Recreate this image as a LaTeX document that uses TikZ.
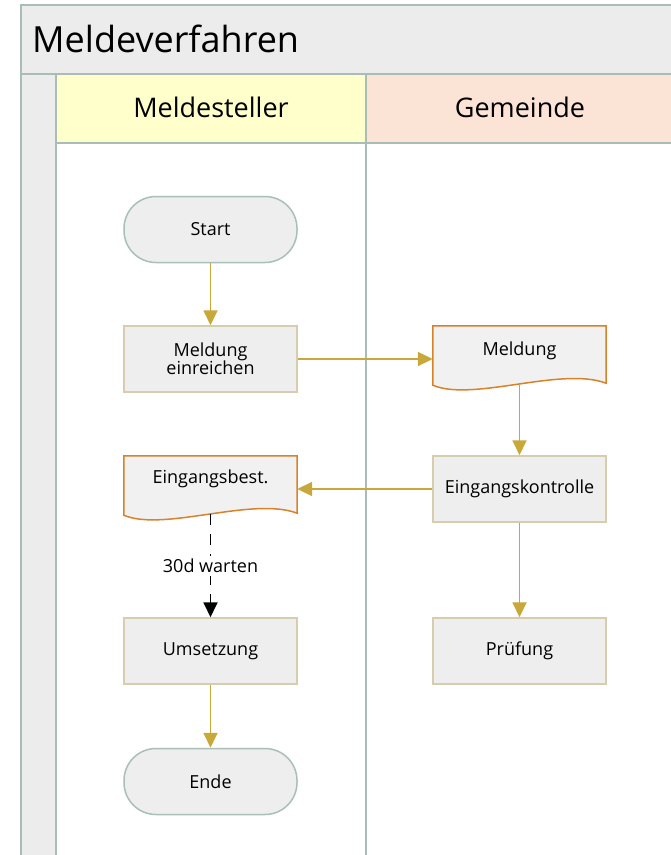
\documentclass[tikz,border=0pt]{standalone}
\usepackage{fontspec}
\setmainfont{Open Sans}
\usetikzlibrary{arrows.meta,calc}
\definecolor{laneline}{HTML}{A9BDB6}
\definecolor{bandfill}{HTML}{ECECEC}
\definecolor{yellowhead}{HTML}{FFFFCC}
\definecolor{salmonhead}{HTML}{FBE3D6}
\definecolor{boxfill}{HTML}{EEEEEE}
\definecolor{boxline}{HTML}{D6CCAE}
\definecolor{termline}{HTML}{A9BFB7}
\definecolor{docline}{HTML}{D8822A}
\definecolor{docfill}{HTML}{F1F1F1}
\definecolor{flowgold}{HTML}{C9A83B}
\tikzset{
  x=1pt, y=-1pt,
  nodetext/.style={font=\fontsize{18}{21}\selectfont, align=center, text=black},
  procbox/.style={nodetext, rectangle, draw=boxline, line width=1.5pt, fill=boxfill, minimum width=173pt, minimum height=66pt, inner sep=0pt},
  termbox/.style={nodetext, rectangle, rounded corners=32pt, draw=termline, line width=1.5pt, fill=boxfill, minimum width=173pt, minimum height=66pt, inner sep=0pt},
  docbox/.style={nodetext, rectangle, draw=none, minimum width=173pt, minimum height=58pt, inner sep=0pt},
  docshape/.style={draw=docline, line width=1.5pt, fill=docfill},
  flow/.style={draw=flowgold, line width=1.8pt, -{Triangle[length=15pt,width=14pt]}, flowgold},
  waitflow/.style={draw=black, line width=1.8pt, dash pattern=on 11pt off 9pt, -{Triangle[length=15pt,width=14pt]}},
  headtext/.style={font=\fontsize{27}{31}\selectfont, text=black},
}
\begin{document}
\begin{tikzpicture}
\useasboundingbox (0,0) rectangle (671,855);
% pool
\fill[white] (0,0) rectangle (671,855);
\fill[bandfill] (21,5) rectangle (671,74);
\fill[bandfill] (21,74) rectangle (56,855);
\fill[yellowhead] (56,74) rectangle (366,143);
\fill[salmonhead] (366,74) rectangle (671,143);
\draw[laneline, line width=1.5pt] (671,5) -- (21,5) -- (21,855);
\draw[laneline, line width=1.5pt] (21,74) -- (671,74);
\draw[laneline, line width=1.5pt] (56,74) -- (56,855);
\draw[laneline, line width=1.5pt] (366,74) -- (366,855);
\draw[laneline, line width=1.5pt] (56,143) -- (671,143);
\node[font=\fontsize{36}{41}\selectfont, anchor=west, inner sep=0pt] (title) at (32,39) {Meldeverfahren};
\node[headtext] (h1) at (211,107) {Meldesteller};
\node[headtext] (h2) at (520,107) {Gemeinde};
% nodes
\node[termbox] (start) at (210.5,229.5) {Start};
\node[procbox] (einr) at (210.5,359) {Meldung\\[-3pt]einreichen};
\node[docbox] (meld) at (519.5,355) {};
\node[procbox] (kontr) at (519.5,489) {Eingangskontrolle};
\node[docbox] (best) at (210.5,485) {};
\node[procbox] (ums) at (210.5,651) {Umsetzung};
\node[procbox] (pruef) at (519.5,651) {Prüfung};
\node[termbox] (ende) at (210.5,781.5) {Ende};
% document shapes
\draw[docshape] (meld.north west) -- (meld.north east) -- ($(meld.south east)+(0,-1)$)
  .. controls ($(meld.south east)+(-45,-18)$) and ($(meld.south west)+(40,18)$) .. ($(meld.south west)+(0,1)$) -- cycle;
\node[nodetext] (meldt) at ($(meld.center)+(0,-4)$) {Meldung};
\draw[docshape] (best.north west) -- (best.north east) -- ($(best.south east)+(0,-1)$)
  .. controls ($(best.south east)+(-45,-18)$) and ($(best.south west)+(40,18)$) .. ($(best.south west)+(0,1)$) -- cycle;
\node[nodetext] (bestt) at ($(best.center)+(0,-6)$) {Eingangsbest.};
% connectors
\draw[flow] (start) -- (einr);
\draw[flow] (einr.east) -- (einr.east -| meld.west);
\draw[flow] (meld) -- (kontr);
\draw[flow] (kontr.west) -- (kontr.west -| best.east);
\draw[flow] (kontr) -- (pruef);
\draw[flow] (ums) -- (ende);
\draw[waitflow] (best) -- (ums) node[pos=0.5, fill=white, inner sep=3pt, nodetext] (wait) {30d warten};
\end{tikzpicture}
\end{document}
